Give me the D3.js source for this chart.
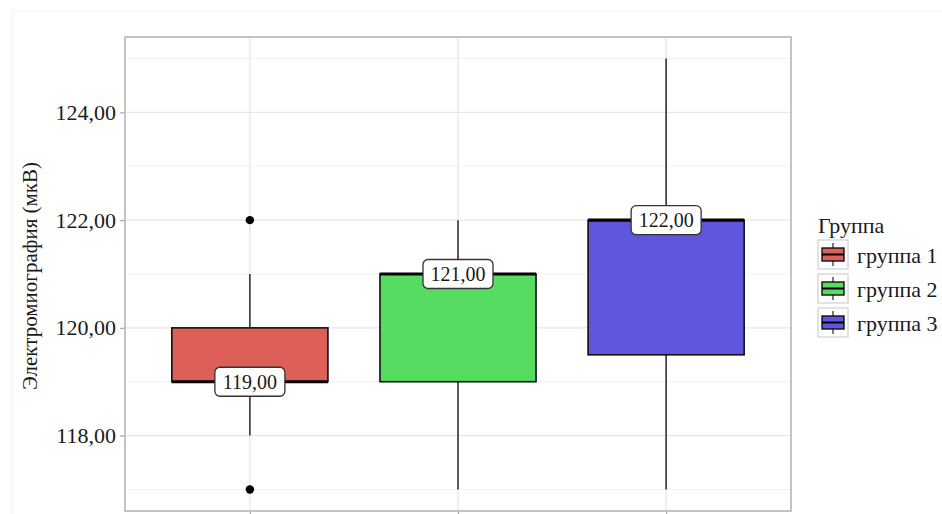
<!DOCTYPE html>
<html>
<head>
<meta charset="utf-8">
<script src="https://cdn.jsdelivr.net/npm/d3@7"></script>
<style>
  html, body { margin: 0; padding: 0; background: #fff; }
  svg { display: block; }
  svg text { font-family: "Liberation Serif", "DejaVu Serif", "Times New Roman", Times, serif; fill: #1a1a1a; }
</style>
</head>
<body>
<svg id="chart" width="942" height="514"></svg>
<script>
// Box-plot summaries per group
const groups      = ["группа 1", "группа 2", "группа 3"];
const q1          = [119, 119, 119.5];
const medians     = [119, 121, 122];
const q3          = [120, 121, 122];
const whiskerLow  = [118, 117, 117];
const whiskerHigh = [121, 122, 125];
const outliers    = [[117, 122], [], []];
const fills       = ["#DC5F58", "#56DC60", "#5E56DC"];
const yTicks      = [118, 120, 122, 124];
const yMinor      = [117, 119, 121, 123, 125];
const yTitle      = "Электромиография (мкВ)";
const legendTitle = "Группа";

const FONT = "'Liberation Serif', 'DejaVu Serif', 'Times New Roman', Times, serif";

const svg = d3.select("#chart");
const panel = { left: 125, right: 791, top: 37, bottom: 511 };

const fmt = v => d3.format(".2f")(v).replace(".", ",");

const x = d3.scalePoint().domain(groups).range([panel.left, panel.right]).padding(0.6);
const y = d3.scaleLinear().domain([116.6, 125.4]).range([panel.bottom, panel.top]);
const boxW = x.step() * 0.75;

// faint outer frame
svg.append("rect").attr("x", 12).attr("y", 11).attr("width", 940).attr("height", 510)
  .attr("fill", "none").attr("stroke", "#f4f4f4").attr("stroke-width", 1);

const g = svg.append("g");

// grid
g.selectAll(".minor").data(yMinor).join("line")
  .attr("x1", panel.left).attr("x2", panel.right)
  .attr("y1", d => y(d)).attr("y2", d => y(d))
  .attr("stroke", "#f3f3f3").attr("stroke-width", 1);
g.selectAll(".major").data(yTicks).join("line")
  .attr("x1", panel.left).attr("x2", panel.right)
  .attr("y1", d => y(d)).attr("y2", d => y(d))
  .attr("stroke", "#e6e6e6").attr("stroke-width", 1.3);
g.selectAll(".vgrid").data(groups).join("line")
  .attr("x1", d => x(d)).attr("x2", d => x(d))
  .attr("y1", panel.top).attr("y2", panel.bottom)
  .attr("stroke", "#e6e6e6").attr("stroke-width", 1.3);

// y axis
const yAxis = d3.axisLeft(y).tickValues(yTicks).tickSize(5).tickPadding(4).tickFormat(fmt);
const ax = svg.append("g").attr("transform", `translate(${panel.left},0)`).call(yAxis)
  .attr("font-family", FONT);
ax.select(".domain").remove();
ax.selectAll(".tick line").attr("stroke", "#aaa").attr("stroke-width", 1.3);
ax.selectAll(".tick text").attr("font-size", 22).attr("fill", "#1a1a1a")
  .style("font-family", FONT);

// x ticks (no labels)
const xAxis = d3.axisBottom(x).tickSize(4).tickFormat("");
const bx = svg.append("g").attr("transform", `translate(0,${panel.bottom})`).call(xAxis);
bx.select(".domain").remove();
bx.selectAll(".tick line").attr("stroke", "#aaa").attr("stroke-width", 1.3);

// y title
svg.append("text")
  .attr("transform", `translate(37,${(y(118) + y(124)) / 2 + 2}) rotate(-90)`)
  .attr("text-anchor", "middle").attr("font-size", 21).style("font-family", FONT).text(yTitle);

// boxes
const data = groups.map((name, i) => ({
  name, q1: q1[i], med: medians[i], q3: q3[i],
  lo: whiskerLow[i], hi: whiskerHigh[i], out: outliers[i], fill: fills[i]
}));

const bg = g.selectAll(".box").data(data).join("g");
bg.append("line")
  .attr("x1", d => x(d.name)).attr("x2", d => x(d.name))
  .attr("y1", d => y(d.lo)).attr("y2", d => y(d.hi))
  .attr("stroke", "#333").attr("stroke-width", 1.6);
bg.append("rect")
  .attr("x", d => x(d.name) - boxW / 2).attr("width", boxW)
  .attr("y", d => y(d.q3)).attr("height", d => y(d.q1) - y(d.q3))
  .attr("fill", d => d.fill).attr("stroke", "#111").attr("stroke-width", 1.6);
bg.append("line")
  .attr("x1", d => x(d.name) - boxW / 2).attr("x2", d => x(d.name) + boxW / 2)
  .attr("y1", d => y(d.med)).attr("y2", d => y(d.med))
  .attr("stroke", "#000").attr("stroke-width", 3.2);
bg.selectAll("circle").data(d => d.out.map(v => ({ name: d.name, v }))).join("circle")
  .attr("cx", d => x(d.name)).attr("cy", d => y(d.v)).attr("r", 4.2).attr("fill", "#000");

// median labels
const lab = g.selectAll(".lab").data(data).join("g")
  .attr("transform", d => `translate(${x(d.name)},${y(d.med)})`);
lab.append("rect").attr("x", -35).attr("y", -14.5).attr("width", 70).attr("height", 29)
  .attr("rx", 5).attr("fill", "#fff").attr("stroke", "#333").attr("stroke-width", 1.3);
lab.append("text").attr("text-anchor", "middle").attr("dy", "0.35em")
  .attr("font-size", 20).style("font-family", FONT).text(d => fmt(d.med));

// panel border
svg.append("rect").attr("x", panel.left).attr("y", panel.top)
  .attr("width", panel.right - panel.left).attr("height", panel.bottom - panel.top)
  .attr("fill", "none").attr("stroke", "#c4c4c4").attr("stroke-width", 2);

// legend
const lg = svg.append("g").attr("transform", "translate(818,0)");
lg.append("text").attr("x", 0).attr("y", 233).attr("font-size", 22)
  .style("font-family", FONT).text(legendTitle);
const key = lg.selectAll(".key").data(data).join("g")
  .attr("transform", (d, i) => `translate(0,${240 + i * 34})`);
key.append("rect").attr("width", 30).attr("height", 29)
  .attr("fill", "#fff").attr("stroke", "#cfcfcf").attr("stroke-width", 1.2);
key.append("line").attr("x1", 15).attr("x2", 15).attr("y1", 3).attr("y2", 26)
  .attr("stroke", "#333").attr("stroke-width", 1.3);
key.append("rect").attr("x", 4).attr("y", 8).attr("width", 22).attr("height", 13)
  .attr("fill", d => d.fill).attr("stroke", "#111").attr("stroke-width", 1.4);
key.append("line").attr("x1", 4).attr("x2", 26).attr("y1", 14.5).attr("y2", 14.5)
  .attr("stroke", "#000").attr("stroke-width", 2);
key.append("text").attr("x", 39).attr("y", 15).attr("dy", "0.35em")
  .attr("font-size", 22).style("font-family", FONT).text(d => d.name);
</script>
</body>
</html>
